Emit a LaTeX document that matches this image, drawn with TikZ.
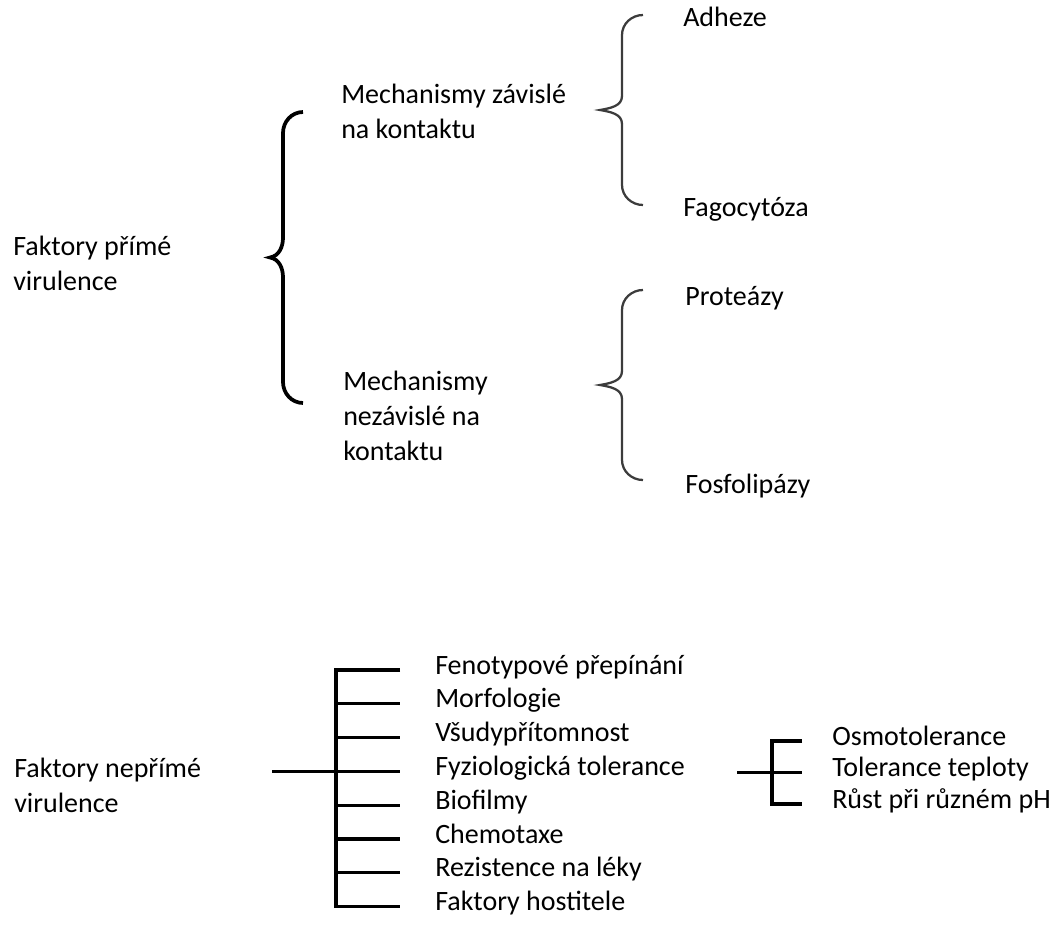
\documentclass[tikz,border=0pt]{standalone}
\usepackage{fontspec}
\setmainfont{Carlito}
\definecolor{bracegray}{RGB}{60,60,60}

\begin{document}
\begin{tikzpicture}[x=0.75pt, y=-0.75pt,
    txt/.style={anchor=base west, inner sep=0pt, align=left, font=\fontsize{21}{26}\selectfont},
    item/.style={anchor=west, inner sep=0pt, font=\fontsize{21}{25}\selectfont, text height=14pt, text depth=8pt},
    bigbrace/.style={line width=2.8pt},
    smallbrace/.style={line width=1.7pt, bracegray},
    tree/.style={line width=2.3pt}]
    \useasboundingbox (0,0) rectangle (1059,924);

    % direct virulence
    \node[txt] (fpv) at (13,290) {Faktory přímé\\virulence};
    \node[txt] (mzav) at (341,138) {Mechanismy závislé\\na kontaktu};
    \node[txt] (mnez) at (343,460) {Mechanismy\\nezávislé na\\kontaktu};
    \node[txt] (adh) at (683,27) {Adheze};
    \node[txt] (fag) at (683,216) {Fagocytóza};
    \node[txt] (prot) at (685,305) {Proteázy};
    \node[txt] (fosf) at (685,493) {Fosfolipázy};

    \coordinate (b1t) at (303,112);
    \coordinate (b2t) at (643,15);
    \coordinate (b3t) at (643,290);
    \draw[bigbrace] (b1t) to[out=180,in=90] ++(-20,21) -- ++(0,104.5) to[out=-90,in=10] ++(-13,20)
        to[out=-10,in=90] ++(13,20) -- ++(0,104.5) to[out=-90,in=180] ++(20,21);
    \draw[smallbrace] (b2t) to[out=180,in=90] ++(-21,20) -- ++(0,61) to[out=-90,in=10] ++(-22,14)
        to[out=-10,in=90] ++(22,14) -- ++(0,61) to[out=-90,in=180] ++(21,20);
    \draw[smallbrace] (b3t) to[out=180,in=90] ++(-21,20) -- ++(0,61) to[out=-90,in=10] ++(-22,14)
        to[out=-10,in=90] ++(22,14) -- ++(0,61) to[out=-90,in=180] ++(21,20);

    % indirect virulence
    \node[txt] (fnv) at (14,812) {Faktory nepřímé\\virulence};
    \foreach \t [count=\i] in {Fenotypové přepínání, Morfologie, Všudypřítomnost,
        Fyziologická tolerance, Biofilmy, Chemotaxe, Rezistence na léky, Faktory hostitele}
        \node[item] (f\i) at (435,{670+33.8*(\i-1)}) {\t};
    \foreach \t [count=\i] in {Osmotolerance, Tolerance teploty, Růst při různém pH}
        \node[item] (o\i) at (832,{741+31.5*(\i-1)}) {\t};

    \coordinate (tr1) at (336,0); \coordinate (st1) at (272,0);
    \coordinate (tr2) at (772,0); \coordinate (st2) at (737,0);
    \draw[tree] ([xshift=-26.25pt]f1.west) -- (tr1 |- f1.west) -- (tr1 |- f8.west) -- ([xshift=-26.25pt]f8.west);
    \foreach \i in {2,...,7} \draw[tree] (tr1 |- f\i.west) -- ([xshift=-26.25pt]f\i.west);
    \draw[tree] (st1 |- f4.west) -- (tr1 |- f4.west);
    \draw[tree] ([xshift=-22.5pt]o1.west) -- (tr2 |- o1.west) -- (tr2 |- o3.west) -- ([xshift=-22.5pt]o3.west);
    \draw[tree] (st2 |- o2.west) -- ([xshift=-22.5pt]o2.west);
\end{tikzpicture}
\end{document}
